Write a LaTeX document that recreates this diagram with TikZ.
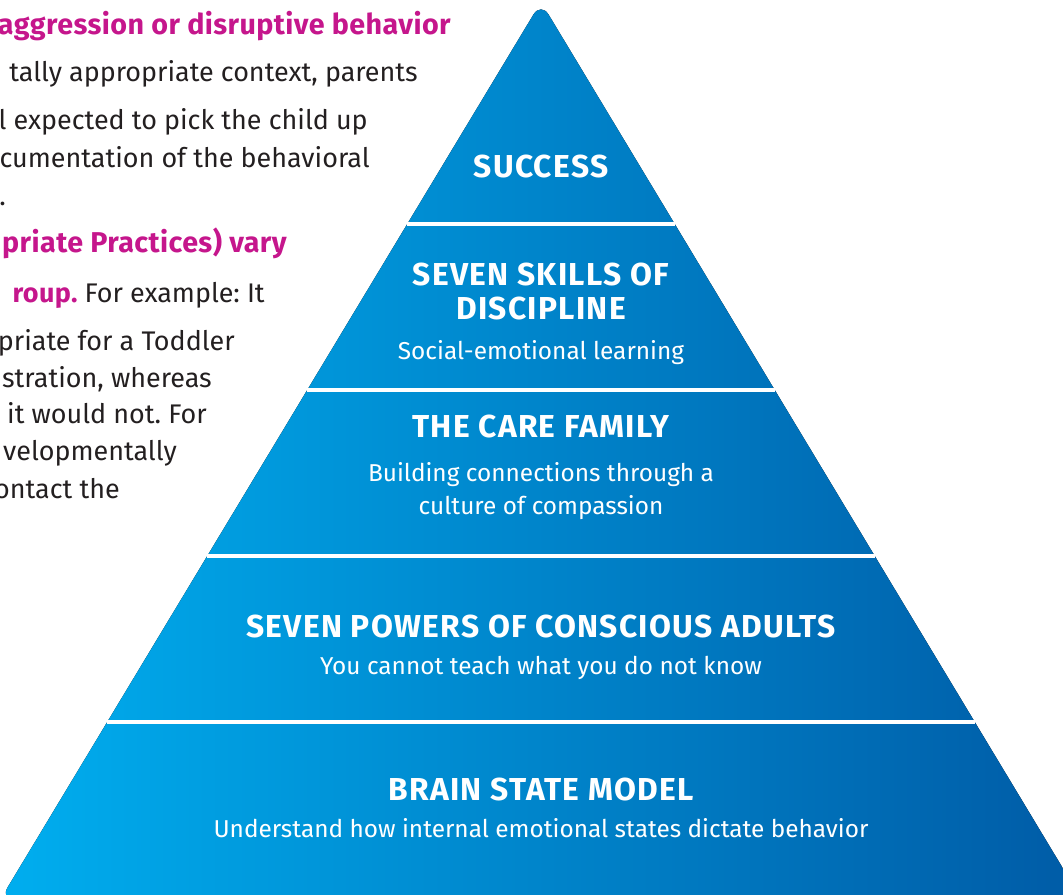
\documentclass[tikz,border=0pt]{standalone}
\usepackage{fontspec}
\setmainfont{Fira Sans}
\newfontfamily\titlefont{Fira Sans}[LetterSpace=4]
\newfontfamily\sideheadfont{Fira Sans}[LetterSpace=1.5]
\usepackage{tikz}
\usetikzlibrary{positioning}
\frenchspacing

\definecolor{pyrlight}{HTML}{00AEEF}
\definecolor{pyrdark}{HTML}{005BA6}
\definecolor{magentatext}{HTML}{C5168C}
\definecolor{darktext}{HTML}{231F20}

\begin{document}
\begin{tikzpicture}[x=0.75pt,y=-0.75pt,
    tiertitle/.style={text=white,font=\titlefont\bfseries\fontsize{23.8}{28}\selectfont,anchor=base,inner sep=0pt},
    tiertext/.style={text=white,font=\fontsize{18.3}{22}\selectfont,anchor=base,inner sep=0pt},
    sidehead/.style={text=magentatext,font=\sideheadfont\bfseries\fontsize{21.5}{25}\selectfont,anchor=base east,inner sep=0pt},
    sidebody/.style={text=darktext,font=\fontsize{20.2}{24}\selectfont,anchor=base east,inner sep=0pt},
    tierline/.style={draw=white,line width=2.4pt}]

    \useasboundingbox (0,0) rectangle (1063,895);
    \clip (0,0) rectangle (1063,895);

    % pyramid
    \coordinate (apex) at (541,2);
    \coordinate (baseleft) at (0,900);
    \coordinate (baseright) at (1082,900);
    \fill[left color=pyrlight,right color=pyrdark,rounded corners=11pt] (baseleft) -- (apex) -- (baseright) -- cycle;
    \foreach \y/\h in {224/133.7, 390/233.7, 556/333.7, 722/433.7}
        \draw[tierline] ({541-\h},\y) -- ({541+\h},\y);

    % tiers
    \node[tiertitle] (success) at (541,177) {SUCCESS};
    \node[tiertitle] (skills) at (541,285) {SEVEN SKILLS OF};
    \node[tiertitle] (discipline) at (541,319) {DISCIPLINE};
    \node[tiertext] (sel) at (541,359) {Social-emotional learning};
    \node[tiertitle] (family) at (541,437) {THE CARE FAMILY};
    \node[tiertext] (connect) at (541,481) {Building connections through a};
    \node[tiertext] (culture) at (541,514) {culture of compassion};
    \node[tiertitle] (powers) at (541,637) {SEVEN POWERS OF CONSCIOUS ADULTS};
    \node[tiertext] (teach) at (541,674) {You cannot teach what you do not know};
    \node[tiertitle] (brain) at (541,800) {BRAIN STATE MODEL};
    \node[tiertext] (states) at (541,837) {Understand how internal emotional states dictate behavior};

    % side text, cut at the left edge
    \node[sidehead] (aggr) at (451,35) {aggression or disruptive behavior};
    \node[sidebody] (context) at (418,82) {tally appropriate context, parents};
    \node[sidebody] (pickup) at (368,130) {l expected to pick the child up};
    \node[sidebody] (docu) at (370,167) {cumentation of the behavioral};
    \node[sidebody] (dot) at (6,205) {.};
    \node[sidehead] (vary) at (287,252) {priate Practices) vary};
    \node[sidebody] (example) at (265,302) {\textcolor{magentatext}{\sideheadfont\bfseries roup.} For example: It};
    \node[sidebody] (toddler) at (235,350) {priate for a Toddler};
    \node[sidebody] (whereas) at (212,387) {stration, whereas};
    \node[sidebody] (wouldnot) at (207,423) {it would not. For};
    \node[sidebody] (develop) at (177,460) {velopmentally};
    \node[sidebody] (contact) at (120,498) {ontact the};
\end{tikzpicture}
\end{document}
